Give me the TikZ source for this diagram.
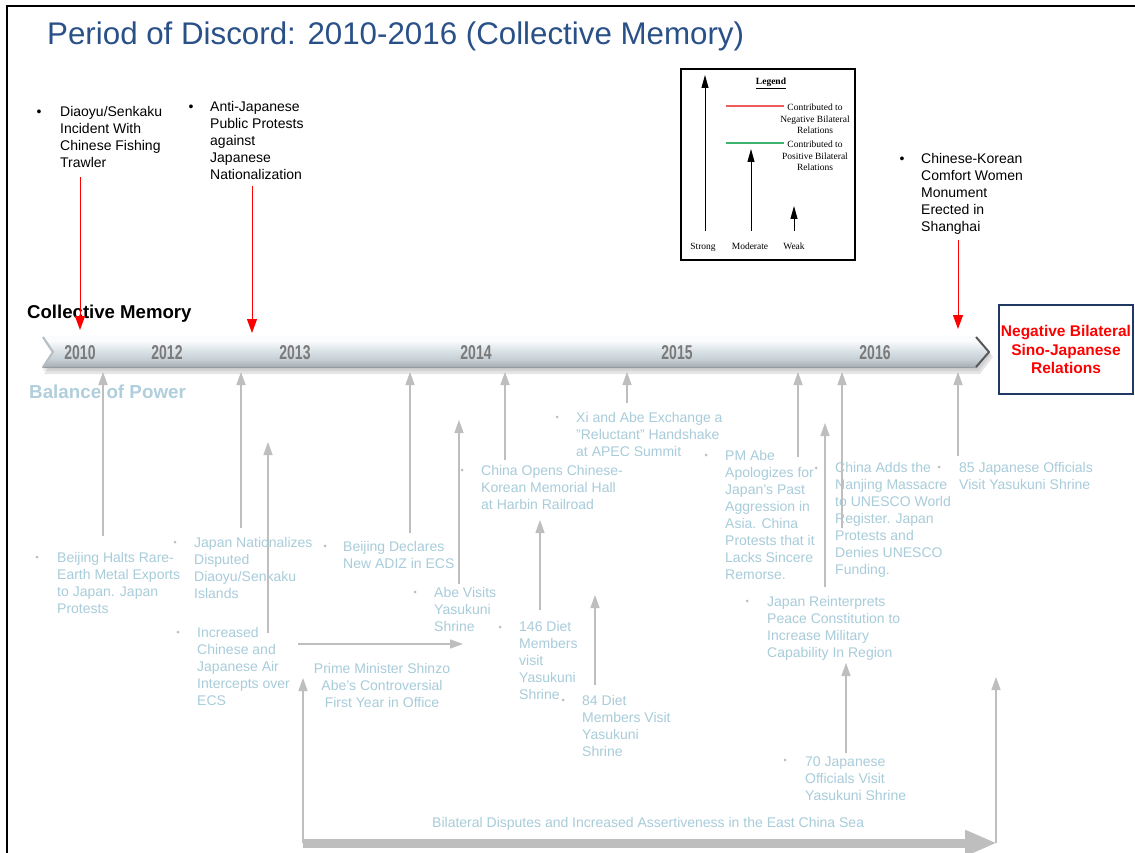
\documentclass[tikz,border=0pt]{standalone}
\usepackage{fontspec}
\setmainfont{Liberation Sans}
\newfontfamily\legendfont{Liberation Serif}
\newfontfamily\yearfont[FakeStretch=0.7]{Liberation Sans}
\usetikzlibrary{arrows.meta}

\definecolor{titleblue}{RGB}{42,80,136}
\definecolor{evblue}{RGB}{168,204,218}
\definecolor{bopblue}{RGB}{176,206,220}
\definecolor{evgray}{RGB}{190,190,190}
\definecolor{yeargray}{RGB}{122,122,122}
\definecolor{navy}{RGB}{32,56,100}
\definecolor{legred}{RGB}{240,92,92}
\definecolor{leggreen}{RGB}{60,180,112}
\definecolor{barA}{RGB}{128,133,138}
\definecolor{barB}{RGB}{170,178,183}
\definecolor{barC}{RGB}{196,206,212}
\definecolor{barD}{RGB}{224,231,235}
\definecolor{barE}{RGB}{251,252,253}

\pgfdeclareverticalshading{tlbar}{100bp}{color(0bp)=(barA); color(25bp)=(barA);
  color(28bp)=(barB); color(38bp)=(barC); color(55bp)=(barD); color(68bp)=(barE);
  color(100bp)=(barE)}

% multi-line text blocks whose baseline is the first line
\newcommand\evl[1]{\begin{tabular}[t]{@{}l@{}}#1\end{tabular}}
\newcommand\evc[1]{\begin{tabular}[t]{@{}c@{}}#1\end{tabular}}

\begin{document}
\begin{tikzpicture}[x=1pt,y=-1pt,
  evtext/.style={anchor=base west, inner sep=0pt, text=evblue, font=\fontsize{14}{17}\selectfont},
  toptext/.style={anchor=base west, inner sep=0pt, text=black, font=\fontsize{14}{17}\selectfont},
  topbullet/.style={anchor=base, inner sep=0pt, text=black, font=\fontsize{14}{17}\selectfont},
  dotbullet/.style={circle, fill=evgray, inner sep=0pt, minimum size=3pt},
  evarrow/.style={draw=evgray, line width=1.3pt, -{Triangle[length=13pt,width=9pt]}},
  redarrow/.style={draw=red, line width=1pt, -{Triangle[length=14pt,width=10pt]}},
  legarrow/.style={draw=black, line width=1pt, -{Triangle[length=13pt,width=7pt]}},
  yearlabel/.style={text=yeargray, inner sep=0pt, font=\yearfont\bfseries\fontsize{20}{20}\selectfont},
  legtext/.style={anchor=base, inner sep=0pt, font=\legendfont\fontsize{9.5}{11.7}\selectfont}]

\useasboundingbox (0,0) rectangle (1135,853);
\fill[white] (0,0) rectangle (1135,853);

% frame
\draw[line width=2pt] (7,853) -- (7,6) -- (1135,6);

% title
\node (title) [anchor=base west, inner sep=0pt, text=titleblue,
  font=\fontsize{31.3}{36}\selectfont] at (47,45) {Period of Discord: 2010-2016 (Collective Memory)};

% ---------- timeline bar ----------
\fill[black, opacity=0.10] (44,341) -- (980,341) -- (993,357) -- (980,374) -- (44,374) -- (55,357) -- cycle;
\fill[black, opacity=0.08] (43,339) -- (979,339) -- (991,355) -- (979,371) -- (43,371) -- (54,355) -- cycle;
\shade[shading=tlbar] (42,336) -- (977,336) -- (990,352) -- (977,368) -- (42,368) -- (53,352) -- cycle;
\draw[line width=2pt, draw=barC!80!gray] (43,337) -- (53,352) -- (43,367);
\draw[line width=2pt, draw=black!65, line join=round] (976,337) -- (989,352) -- (976,367);
\coordinate (barbase) at (0,372);

\node (y2010) [yearlabel] at (80,353) {2010};
\node (y2012) [yearlabel] at (167,353) {2012};
\node (y2013) [yearlabel] at (295,353) {2013};
\node (y2014) [yearlabel] at (476,353) {2014};
\node (y2015) [yearlabel] at (677,353) {2015};
\node (y2016) [yearlabel] at (875,353) {2016};

\node (cm) [anchor=base west, inner sep=0pt, font=\bfseries\fontsize{18.6}{20}\selectfont] at (27,318.5) {Collective Memory};
\node (bop) [anchor=base west, inner sep=0pt, text=bopblue, font=\bfseries\fontsize{18.8}{20}\selectfont] at (29,398.5) {Balance of Power};

% outcome box
\node (outcome) [draw=navy, line width=1.5pt, minimum width=134pt, minimum height=89pt,
  text=red, align=center, inner sep=0pt, font=\bfseries\fontsize{15.5}{18.5}\selectfont]
  at (1066,349.5) {Negative Bilateral\\Sino-Japanese\\Relations};

% ---------- collective memory events (top) ----------
\node (tb1) [topbullet] at (39,117) {•};
\node (t1) [toptext] at (60,117) {\evl{Diaoyu/Senkaku\\Incident With\\Chinese Fishing\\Trawler}};
\node (tb2) [topbullet] at (191,112) {•};
\node (t2) [toptext] at (210,112) {\evl{Anti-Japanese\\Public Protests\\against\\Japanese\\Nationalization}};
\node (tb3) [topbullet] at (902,164) {•};
\node (t3) [toptext] at (921,164) {\evl{Chinese-Korean\\Comfort Women\\Monument\\Erected in\\Shanghai}};

\coordinate (r1s) at (80,177);  \coordinate (r1e) at (80,330);
\coordinate (r2s) at (252,186); \coordinate (r2e) at (252,333);
\coordinate (r3s) at (958,240); \coordinate (r3e) at (958,329);
\draw[redarrow] (r1s) -- (r1e);
\draw[redarrow] (r2s) -- (r2e);
\draw[redarrow] (r3s) -- (r3e);

% ---------- legend ----------
\node (legbox) [draw=black, line width=1.2pt, minimum width=174pt, minimum height=191pt, inner sep=0pt] at (768,164.5) {};
\node (legtitle) [legtext, font=\legendfont\bfseries\fontsize{9.5}{11.7}\selectfont] at (771,85) {\underline{Legend}};
\draw[legred, line width=1.6pt] (726,106) coordinate (lr1) -- (784,106) coordinate (lr2);
\node (legneg) [legtext] at (815,110.5) {\evc{Contributed to\\Negative Bilateral\\Relations}};
\draw[leggreen, line width=1.6pt] (726,143) coordinate (lg1) -- (784,143) coordinate (lg2);
\node (legpos) [legtext] at (815,147.5) {\evc{Contributed to\\Positive Bilateral\\Relations}};
\coordinate (ls1) at (705,231); \coordinate (le1) at (705,75);
\coordinate (ls2) at (751,231); \coordinate (le2) at (751,149);
\coordinate (ls3) at (794,231); \coordinate (le3) at (794,206);
\draw[legarrow] (ls1) -- (le1);
\draw[legarrow] (ls2) -- (le2);
\draw[legarrow] (ls3) -- (le3);
\node (lstrong) [legtext] at (703,250) {Strong};
\node (lmod) [legtext] at (750,250) {Moderate};
\node (lweak) [legtext] at (794,250) {Weak};

% ---------- balance of power events (bottom) ----------
\node (e1) [evtext] at (57,562) {\evl{Beijing Halts Rare-\\Earth Metal Exports\\to Japan. Japan\\Protests}};
\node (e2) [evtext] at (194,547) {\evl{Japan Nationalizes\\Disputed\\Diaoyu/Senkaku\\Islands}};
\node (e3) [evtext] at (197,637) {\evl{Increased\\Chinese and\\Japanese Air\\Intercepts over\\ECS}};
\node (e4) [evtext] at (343,551) {\evl{Beijing Declares\\New ADIZ in ECS}};
\node (e5) [evtext] at (434,597) {\evl{Abe Visits\\Yasukuni\\Shrine}};
\node (e6) [evtext] at (481,475) {\evl{China Opens Chinese-\\Korean Memorial Hall\\at Harbin Railroad}};
\node (e7) [evtext] at (519,631) {\evl{146 Diet\\Members\\visit\\Yasukuni\\Shrine}};
\node (e8) [evtext, anchor=base] at (382,673) {\evc{Prime Minister Shinzo\\Abe's Controversial\\First Year in Office}};
\node (e9) [evtext] at (582,705) {\evl{84 Diet\\Members Visit\\Yasukuni\\Shrine}};
\node (e10) [evtext] at (576,422) {\evl{Xi and Abe Exchange a\\"Reluctant" Handshake\\at APEC Summit}};
\node (e11) [evtext] at (725,460) {\evl{PM Abe\\Apologizes for\\Japan's Past\\Aggression in\\Asia. China\\Protests that it\\Lacks Sincere\\Remorse.}};
\node (e12) [evtext] at (835,472) {\evl{China Adds the\\Nanjing Massacre\\to UNESCO World\\Register. Japan\\Protests and\\Denies UNESCO\\Funding.}};
\node (e13) [evtext] at (767,606) {\evl{Japan Reinterprets\\Peace Constitution to\\Increase Military\\Capability In Region}};
\node (e14) [evtext] at (959,472) {\evl{85 Japanese Officials\\Visit Yasukuni Shrine}};
\node (e15) [evtext] at (805,766) {\evl{70 Japanese\\Officials Visit\\Yasukuni Shrine}};
\node (e16) [evtext] at (432,827) {Bilateral Disputes and Increased Assertiveness in the East China Sea};

% small bullets
\node (d1) [dotbullet] at (37,557) {};
\node (d2) [dotbullet] at (175,542) {};
\node (d3) [dotbullet] at (178,632) {};
\node (d4) [dotbullet] at (325,546) {};
\node (d5) [dotbullet] at (415,592) {};
\node (d6) [dotbullet] at (462,470) {};
\node (d7) [dotbullet] at (500,627) {};
\node (d9) [dotbullet] at (563,700) {};
\node (d10) [dotbullet] at (557,417) {};
\node (d11) [dotbullet] at (706,455) {};
\node (d12) [dotbullet] at (816,468) {};
\node (d13) [dotbullet] at (747,601) {};
\node (d14) [dotbullet] at (939,467) {};
\node (d15) [dotbullet] at (785,760) {};

% connectors up to the timeline
\coordinate (a1) at (103,536);
\coordinate (a2) at (241,528);
\coordinate (a4) at (410,533);
\coordinate (a6) at (505,460);
\coordinate (a9) at (627,403);
\coordinate (a10) at (798,457);
\coordinate (a12) at (842,528);
\coordinate (a13) at (958,456);
\foreach \c in {a1,a2,a4,a6,a9,a10,a12,a13}
  \draw[evarrow] (\c) -- (\c |- barbase);

% connectors between events
\coordinate (a3s) at (268,633); \coordinate (a3e) at (268,442);
\coordinate (a5s) at (459,584); \coordinate (a5e) at (459,420);
\coordinate (a7s) at (540,610); \coordinate (a7e) at (540,520);
\coordinate (a8s) at (595,685); \coordinate (a8e) at (595,595);
\coordinate (a11s) at (825,587); \coordinate (a11e) at (825,423);
\coordinate (a14s) at (846,753); \coordinate (a14e) at (846,663);
\coordinate (hs) at (298,644); \coordinate (he) at (463,644);
\draw[evarrow] (a3s) -- (a3e);
\draw[evarrow] (a5s) -- (a5e);
\draw[evarrow] (a7s) -- (a7e);
\draw[evarrow] (a8s) -- (a8e);
\draw[evarrow] (a11s) -- (a11e);
\draw[evarrow] (a14s) -- (a14e);
\draw[evarrow] (hs) -- (he);

% East China Sea span
\coordinate (bl) at (303,843);
\coordinate (br) at (997,843);
\coordinate (bltop) at (303,678);
\coordinate (brtop) at (996,677);
\draw[evarrow] (bl) -- (bltop);
\draw[evarrow] (br |- bl) ++(-1,0) coordinate (brb) (brb) -- (brtop);
\draw[draw=evgray, line width=9pt, -{Triangle[length=32pt,width=24pt]}] (bl) -- (br);

\end{tikzpicture}
\end{document}
